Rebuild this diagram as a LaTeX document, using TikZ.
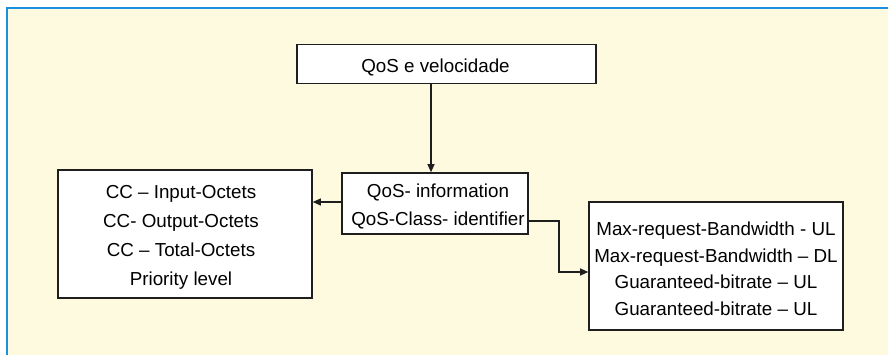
\documentclass[tikz,border=0pt]{standalone}
\usepackage{fontspec}
\setmainfont{Liberation Sans}
\usetikzlibrary{arrows.meta}
\definecolor{panel}{RGB}{254,250,223}
\definecolor{rule}{RGB}{27,144,224}
\definecolor{ink}{RGB}{30,30,30}
\begin{document}
\begin{tikzpicture}[x=1pt,y=-1pt,
  box/.style={draw=ink,line width=1.6pt,fill=white,rectangle,inner sep=0pt},
  txt/.style={align=center,text=black,font=\fontsize{18.8}{28.8}\selectfont},
  tighttxt/.style={align=center,text=black,font=\fontsize{18.8}{26.5}\selectfont},
  arr/.style={draw=ink,line width=1.1pt,-{Triangle[length=8pt,width=7pt]}}]
  % page and panel
  \fill[white] (0,0) rectangle (888,355);
  \useasboundingbox (0,0) rectangle (888,355);
  \fill[panel] (7,8) rectangle (888,355);
  \draw[rule,line width=1.6pt] (7,355) -- (7,8) -- (888,8);

  % boxes
  \node[box,minimum width=299pt,minimum height=39pt,
        label={[txt,xshift=-11pt,yshift=-3pt]center:QoS e velocidade}]
        (top) at (446.5,64) {};
  \node[box,minimum width=186pt,minimum height=61pt,
        label={[txt,xshift=3pt,yshift=-3pt]center:{QoS- information\\QoS-Class- identifier}}]
        (qos) at (435,203.5) {};
  \node[box,minimum width=254pt,minimum height=128pt,
        label={[txt,xshift=-4pt,yshift=-3.5pt]center:{CC -- Input-Octets\\CC- Output-Octets\\CC -- Total-Octets\\Priority level}}]
        (cc) at (185,234) {};
  \node[box,minimum width=254pt,minimum height=128pt,
        label={[tighttxt,yshift=-3pt]center:{Max-request-Bandwidth - UL\\Max-request-Bandwidth -- DL\\Guaranteed-bitrate -- UL\\Guaranteed-bitrate -- UL}}]
        (bw) at (716,266) {};

  % connectors
  \coordinate (dx) at (431,0);
  \coordinate (ly) at (0,202);
  \coordinate (ry) at (0,221);
  \coordinate (bend) at (559,272);
  \draw[arr] (top.south -| dx) -- (qos.north -| dx);
  \draw[arr] (qos.west |- ly) -- (cc.east |- ly);
  \draw[arr] (qos.east |- ry) -| (bend) -- (bw.west |- bend);
\end{tikzpicture}
\end{document}
